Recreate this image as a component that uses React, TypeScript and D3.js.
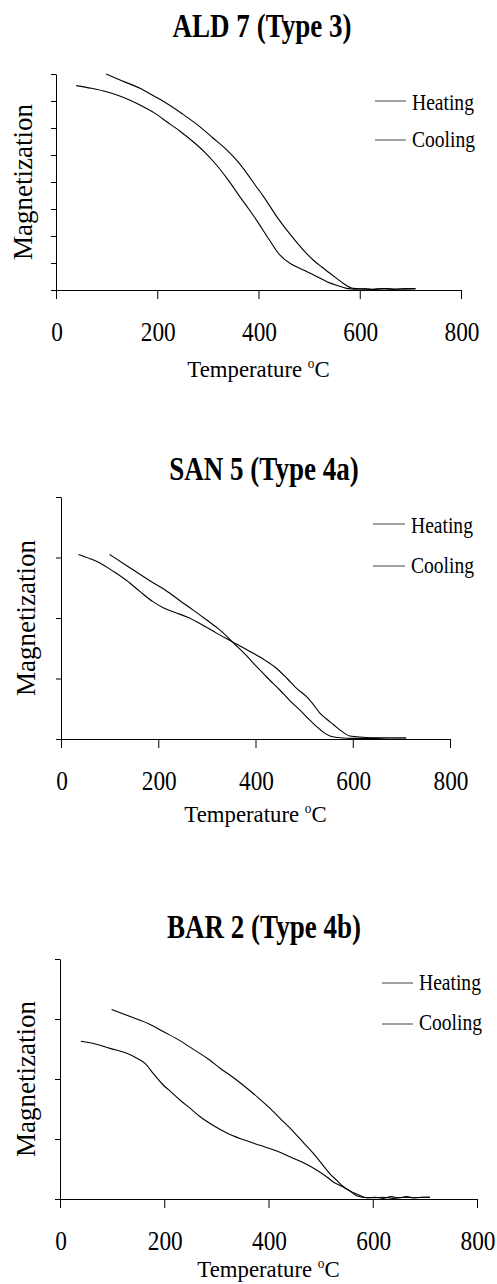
import * as d3 from "d3"
import React, { useRef, useEffect } from "react"

const FONT = "'Liberation Serif', 'Times New Roman', Times, serif"

const xTicks = [0, 200, 400, 600, 800]
const legendNames = ["Heating", "Cooling"]

// ALD 7 (Type 3)
const ald7HeatT = [40, 70, 100, 135, 166, 195, 219, 245, 271, 295, 317, 340, 363, 380, 396, 420, 442, 462, 482, 502, 520, 535, 555, 574, 590, 610, 630, 650, 670, 690, 710]
const ald7HeatM = [7.57, 7.47, 7.34, 7.12, 6.85, 6.55, 6.23, 5.88, 5.49, 5.08, 4.63, 4.08, 3.46, 3.02, 2.59, 1.9, 1.3, 0.99, 0.8, 0.62, 0.45, 0.31, 0.17, 0.06, 0.03, 0.04, 0.02, 0.05, 0.03, 0.04, 0.05]
const ald7CoolT = [99, 130, 166, 190, 219, 250, 284, 310, 337, 358, 377, 393, 410, 436, 469, 490, 508, 525, 541, 555, 567, 587, 605, 625, 645, 665, 685, 710]
const ald7CoolM = [8.0, 7.75, 7.47, 7.22, 6.91, 6.52, 6.05, 5.63, 5.19, 4.78, 4.32, 3.9, 3.46, 2.72, 1.91, 1.45, 1.11, 0.85, 0.62, 0.42, 0.25, 0.06, 0.04, 0.03, 0.05, 0.03, 0.04, 0.05]

// SAN 5 (Type 4a)
const san5HeatT = [36, 60, 80, 108, 135, 162, 189, 210, 235, 258, 290, 320, 340, 361, 395, 420, 443, 465, 484, 505, 520, 532, 546, 560, 577, 594, 620, 650, 680, 710]
const san5HeatM = [3.05, 2.98, 2.91, 2.77, 2.62, 2.44, 2.27, 2.17, 2.09, 2.02, 1.89, 1.75, 1.66, 1.57, 1.42, 1.3, 1.17, 1.0, 0.84, 0.7, 0.56, 0.43, 0.33, 0.24, 0.13, 0.05, 0.03, 0.02, 0.02, 0.02]
const san5CoolT = [100, 140, 182, 215, 244, 272, 299, 330, 357, 380, 402, 426, 450, 470, 491, 508, 525, 540, 553, 574, 600, 640, 680, 710]
const san5CoolM = [3.05, 2.84, 2.62, 2.46, 2.29, 2.13, 1.97, 1.78, 1.57, 1.39, 1.2, 1.0, 0.81, 0.64, 0.48, 0.34, 0.21, 0.11, 0.05, 0.02, 0.01, 0.01, 0.0, 0.0]

// BAR 2 (Type 4b)
const bar2HeatT = [40, 70, 96, 128, 145, 163, 180, 198, 215, 230, 250, 269, 295, 320, 345, 365, 385, 403, 422, 442, 468, 493, 510, 525, 544, 557, 570, 589, 605, 620, 635, 650, 665, 680, 695, 710]
const bar2HeatM = [2.63, 2.58, 2.51, 2.43, 2.36, 2.26, 2.08, 1.9, 1.77, 1.65, 1.51, 1.37, 1.22, 1.1, 1.01, 0.95, 0.89, 0.84, 0.78, 0.7, 0.6, 0.48, 0.38, 0.28, 0.2, 0.13, 0.08, 0.02, 0.03, 0.01, 0.04, 0.02, 0.04, 0.02, 0.03, 0.03]
const bar2CoolT = [99, 141, 170, 198, 230, 262, 285, 307, 333, 358, 380, 403, 425, 448, 467, 486, 502, 518, 531, 544, 557, 570, 589, 605, 620, 640, 660, 680, 700, 710]
const bar2CoolM = [3.16, 3.02, 2.92, 2.79, 2.64, 2.46, 2.33, 2.18, 2.02, 1.85, 1.69, 1.51, 1.32, 1.12, 0.94, 0.76, 0.59, 0.42, 0.31, 0.2, 0.13, 0.05, 0.02, 0.02, 0.03, 0.01, 0.03, 0.02, 0.03, 0.03]

const panels = [
    {
        title: "ALD 7 (Type 3)", yMax: 8,
        series: [[ald7HeatT, ald7HeatM], [ald7CoolT, ald7CoolM]],
        left: 56, right: 461, top: 74, bottom: 290,
        titleX: 262, titleY: 37, ylabX: 31.5, tickLabDy: 51, xlabDy: 87,
        legX1: 375, legX2: 406, legTextX: 412, legY: [101, 140], legTextY: [110, 147],
    },
    {
        title: "SAN 5 (Type 4a)", yMax: 4,
        series: [[san5HeatT, san5HeatM], [san5CoolT, san5CoolM]],
        left: 61, right: 450, top: 497, bottom: 739,
        titleX: 264, titleY: 480, ylabX: 34.5, tickLabDy: 51, xlabDy: 83,
        legX1: 373, legX2: 405, legTextX: 411, legY: [524, 566], legTextY: [533, 573],
    },
    {
        title: "BAR 2 (Type 4b)", yMax: 4,
        series: [[bar2HeatT, bar2HeatM], [bar2CoolT, bar2CoolM]],
        left: 60, right: 477, top: 959, bottom: 1199,
        titleX: 264, titleY: 938, ylabX: 34.5, tickLabDy: 51, xlabDy: 78,
        legX1: 382, legX2: 413, legTextX: 419, legY: [983, 1024], legTextY: [990, 1030],
    },
]

// condensed text: the original uses a narrow Times-like face
function squeezed(g, x, y, sx) {
    return g.append("text")
        .attr("transform", `translate(${x},${y}) scale(${sx},1)`)
        .attr("font-family", FONT)
}

function drawPanel(svg, p) {
    const g = svg.append("g")
    const x = d3.scaleLinear().domain([0, 800]).range([p.left, p.right])
    const y = d3.scaleLinear().domain([0, p.yMax]).range([p.bottom, p.top])

    // title
    squeezed(g, p.titleX, p.titleY, 0.82)
        .attr("text-anchor", "middle")
        .attr("font-weight", "bold")
        .attr("font-size", 33)
        .text(p.title)

    // axes
    g.append("g")
        .attr("transform", `translate(${p.left},0)`)
        .call(d3.axisLeft(y).ticks(p.yMax).tickSize(5).tickSizeOuter(0).tickFormat(() => ""))
    g.append("g")
        .attr("transform", `translate(0,${p.bottom})`)
        .call(d3.axisBottom(x).tickValues(xTicks).tickSize(9).tickSizeOuter(0).tickFormat(() => ""))

    // tick labels
    xTicks.forEach(t => {
        squeezed(g, x(t) + 1, p.bottom + p.tickLabDy, 0.88)
            .attr("text-anchor", "middle")
            .attr("font-size", 26.5)
            .text(t)
    })

    // x label
    const xl = squeezed(g, (p.left + p.right) / 2, p.bottom + p.xlabDy, 0.95)
        .attr("text-anchor", "middle")
        .attr("font-size", 24)
    xl.append("tspan").text("Temperature ")
    xl.append("tspan").attr("font-size", 14).attr("dy", -9).text("o")
    xl.append("tspan").attr("dy", 9).text("C")

    // y label
    g.append("text")
        .attr("transform", `translate(${p.ylabX},${(p.top + p.bottom) / 2}) rotate(-90)`)
        .attr("text-anchor", "middle")
        .attr("font-family", FONT).attr("font-size", 27)
        .text("Magnetization")

    // curves
    p.series.forEach(([T, M]) => {
        const line = d3.line<number>()
            .x((d, i) => x(T[i]))
            .y(d => y(d))
            .curve(d3.curveMonotoneX)
        g.append("path")
            .attr("d", line(M))
            .attr("fill", "none")
            .attr("stroke", "#000")
            .attr("stroke-width", 1.1)
    })

    // legend
    legendNames.forEach((name, i) => {
        g.append("line")
            .attr("x1", p.legX1).attr("x2", p.legX2)
            .attr("y1", p.legY[i]).attr("y2", p.legY[i])
            .attr("stroke", "#444").attr("stroke-width", 1)
        squeezed(g, p.legTextX, p.legTextY[i], 0.87)
            .attr("font-size", 22.5)
            .text(name)
    })
}

export default function App() {
    const ref = useRef(null)

    useEffect(() => {
        const svg = d3.select(ref.current)
        svg.selectAll("*").remove()
        panels.forEach(p => drawPanel(svg, p))
    }, [])

    return (
        <svg ref={ref} width={497} height={1284}
            style={{ position: "absolute", left: 0, top: 0, background: "#fff" }}>
        </svg>
    )
}
